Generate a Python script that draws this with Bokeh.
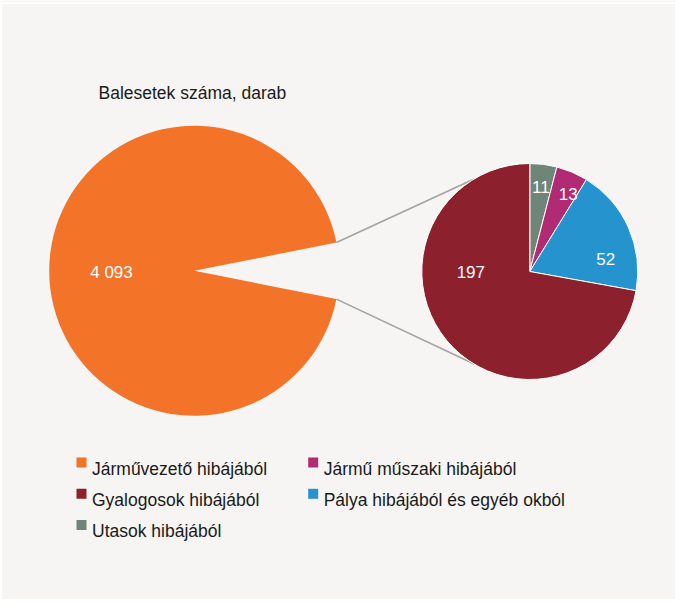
import math
from bokeh.plotting import figure
from bokeh.models import Range1d
from bokeh.core.properties import value
from bokeh.embed import file_html
from bokeh.resources import INLINE

# ---------------- data ----------------
title_text = "Balesetek száma, darab"
main_category = "Járművezető hibájából"
main_value = 4093
# second pie, clockwise from 12 o'clock
small_categories = ["Utasok hibájából", "Jármű műszaki hibájából",
                    "Pálya hibájából és egyéb okból", "Gyalogosok hibájából"]
small_values = [11, 13, 52, 197]
# legend order (row by row, two columns)
legend_categories = ["Járművezető hibájából", "Jármű műszaki hibájából",
                     "Gyalogosok hibájából", "Pálya hibájából és egyéb okból",
                     "Utasok hibájából"]

# ---------------- style ----------------
colors = {
    "Járművezető hibájából": "#F37329",
    "Jármű műszaki hibájából": "#B02A74",
    "Gyalogosok hibájából": "#8C202C",
    "Pálya hibájából és egyéb okból": "#2493CE",
    "Utasok hibájából": "#6E8578",
}
BG = "#F6F5F3"
FONT = value("Liberation Sans")

W, H = 675, 599
big_c = (193.7, 328.7)
big_r = 145
small_c = (529.3, 328.0)
small_r = 108
connector_angle = math.radians(121)
# label placement (angle in degrees, fraction of radius)
big_label_pos = (177.2, 0.571)
small_label_pos = [(83.0, 0.846), (65.4, 0.855), (14.0, 0.725), (175.0, 0.548)]


def fmt(v):
    return f"{v:,}".replace(",", " ")


p = figure(width=W, height=H, output_backend="svg", toolbar_location=None,
           x_range=Range1d(0, W), y_range=Range1d(0, H), min_border=0)
p.axis.visible = False
p.grid.visible = False
p.outline_line_color = None
p.background_fill_color = BG
p.border_fill_color = BG

# white frame lines (top and left) of the panel
p.segment(x0=[0, 0.6], y0=[H - 2.8, 0], x1=[W, 0.6], y1=[H - 2.8, H - 2.0],
          line_color="white", line_width=2)

# ---------------- big pie ----------------
other_total = sum(small_values)
half_gap = math.pi * other_total / (main_value + other_total)
p.wedge(x=[big_c[0]], y=[big_c[1]], radius=big_r,
        start_angle=half_gap, end_angle=2 * math.pi - half_gap,
        fill_color=colors[main_category], line_color=None)

# connector lines
x0 = [big_c[0] + big_r * math.cos(half_gap), big_c[0] + big_r * math.cos(-half_gap)]
y0 = [big_c[1] + big_r * math.sin(half_gap), big_c[1] + big_r * math.sin(-half_gap)]
x1 = [small_c[0] + small_r * math.cos(connector_angle),
      small_c[0] + small_r * math.cos(-connector_angle)]
y1 = [small_c[1] + small_r * math.sin(connector_angle),
      small_c[1] + small_r * math.sin(-connector_angle)]
p.segment(x0=x0, y0=y0, x1=x1, y1=y1, line_color="#A3A3A3", line_width=1.6)

a, f = big_label_pos
p.text(x=[big_c[0] + f * big_r * math.cos(math.radians(a))],
       y=[big_c[1] + f * big_r * math.sin(math.radians(a))],
       text=[fmt(main_value)], text_font=FONT, text_font_size="17px",
       text_color="white", text_align="center", text_baseline="alphabetic",
       y_offset=6)

# ---------------- small pie ----------------
k = 2 * math.pi / other_total
cum = 0
starts, ends = [], []
for v in small_values:
    ends.append(math.pi / 2 - cum * k)
    cum += v
    starts.append(math.pi / 2 - cum * k)
p.wedge(x=[small_c[0]] * len(small_values), y=[small_c[1]] * len(small_values),
        radius=small_r, start_angle=starts, end_angle=ends,
        fill_color=[colors[c] for c in small_categories],
        line_color="white", line_width=1)

lx = [small_c[0] + fr * small_r * math.cos(math.radians(an)) for an, fr in small_label_pos]
ly = [small_c[1] + fr * small_r * math.sin(math.radians(an)) for an, fr in small_label_pos]
p.text(x=lx, y=ly, text=[fmt(v) for v in small_values], text_font=FONT,
       text_font_size="17px", text_color="white", text_align="center",
       text_baseline="alphabetic", y_offset=6)

# ---------------- title ----------------
p.text(x=[98], y=[507], text=[title_text], text_font=FONT, text_font_size="17.5px",
       text_color="#1A1A1A", text_baseline="alphabetic")

# ---------------- legend ----------------
leg_x0, leg_dx, leg_y0, leg_dy, gap = 81, 231.7, 137, 31.3, 10.5
sq_x, sq_y, tx, ty = [], [], [], []
for i, c in enumerate(legend_categories):
    col, row = i % 2, i // 2
    sx = leg_x0 + col * leg_dx
    sy = leg_y0 - row * leg_dy
    sq_x.append(sx)
    sq_y.append(sy)
    tx.append(sx + gap)
    ty.append(sy)
p.rect(x=sq_x, y=sq_y, width=10, height=10, width_units="screen", height_units="screen",
       fill_color=[colors[c] for c in legend_categories], line_color=None)
p.text(x=tx, y=ty, text=legend_categories, text_font=FONT, text_font_size="17.5px",
       text_color="#1A1A1A", text_baseline="alphabetic", y_offset=6.3)

open("out.html", "w").write(file_html(p, INLINE))
